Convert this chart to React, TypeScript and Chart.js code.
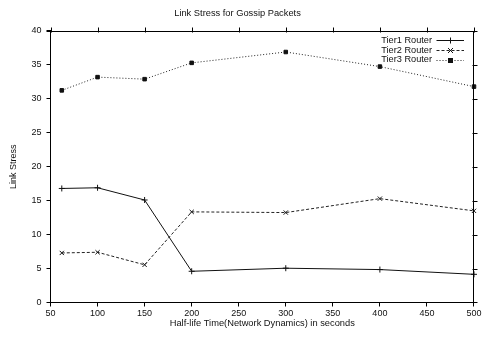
import React, { useEffect, useRef } from 'react';
import { Chart, registerables } from 'chart.js';

Chart.register(...registerables);

const halfLife = [62, 100, 150, 200, 300, 400, 500];
const tier1 = [16.8, 16.9, 15.1, 4.6, 5.05, 4.85, 4.15];
const tier2 = [7.3, 7.4, 5.55, 13.35, 13.25, 15.3, 13.5];
const tier3 = [31.25, 33.2, 32.9, 35.3, 36.9, 34.75, 31.8];
const seriesLabels = ['Tier1 Router', 'Tier2 Router', 'Tier3 Router'];

const FONT = "'Liberation Sans', Arial, Helvetica, sans-serif";
const INK = '#111';

function drawMarker(ctx: CanvasRenderingContext2D, style: string, x: number, y: number) {
  ctx.save();
  ctx.setLineDash([]);
  ctx.lineWidth = 1;
  ctx.strokeStyle = INK;
  ctx.fillStyle = INK;
  ctx.beginPath();
  if (style === 'cross') {
    ctx.moveTo(x - 3, y); ctx.lineTo(x + 3, y);
    ctx.moveTo(x, y - 3); ctx.lineTo(x, y + 3);
    ctx.stroke();
  } else if (style === 'crossRot') {
    ctx.moveTo(x - 2.5, y - 2.5); ctx.lineTo(x + 2.5, y + 2.5);
    ctx.moveTo(x - 2.5, y + 2.5); ctx.lineTo(x + 2.5, y - 2.5);
    ctx.stroke();
  } else {
    ctx.fillRect(x - 2.5, y - 2.5, 5, 5);
  }
  ctx.restore();
}

const framePlugin = {
  id: 'frame',
  afterDraw(chart: any) {
    const { ctx, chartArea: a, scales } = chart;
    const xs = scales.x;
    const ys = scales.y;
    ctx.save();
    ctx.strokeStyle = '#000';
    ctx.lineWidth = 1;
    ctx.setLineDash([]);
    const top = Math.round(a.top) + 0.5;
    const right = Math.round(a.right) - 0.5;
    ctx.beginPath();
    ctx.moveTo(a.left - 4, top);
    ctx.lineTo(right, top);
    ctx.lineTo(right, a.bottom);
    xs.ticks.forEach((t: any) => {
      const px = Math.round(xs.getPixelForValue(t.value)) + 0.5;
      ctx.moveTo(px, top - 4);
      ctx.lineTo(px, top + 1);
    });
    ys.ticks.forEach((t: any) => {
      const py = Math.round(ys.getPixelForValue(t.value)) + 0.5;
      ctx.moveTo(right - 1, py);
      ctx.lineTo(right + 4, py);
    });
    ctx.stroke();

    // legend (gnuplot style: text then sample on the right)
    ctx.font = `9.2px ${FONT}`;
    ctx.fillStyle = INK;
    ctx.textAlign = 'right';
    ctx.textBaseline = 'middle';
    chart.data.datasets.forEach((ds: any, i: number) => {
      const yy = 40.3 + i * 9.7;
      ctx.fillText(ds.label, 432, yy);
      ctx.save();
      ctx.strokeStyle = ds.borderColor;
      ctx.lineWidth = 1;
      ctx.setLineDash(ds.borderDash || []);
      ctx.beginPath();
      ctx.moveTo(436.5, Math.round(yy) + 0.5);
      ctx.lineTo(464, Math.round(yy) + 0.5);
      ctx.stroke();
      ctx.restore();
      drawMarker(ctx, ds.pointStyle, 450.5, Math.round(yy) + 0.5);
    });
    ctx.restore();
  },
};

export default function App() {
  const ref = useRef<HTMLCanvasElement>(null);
  useEffect(() => {
    if (!ref.current) return;
    const mk = (data: number[]) => halfLife.map((x, i) => ({ x, y: data[i] }));
    const chart = new Chart(ref.current, {
      type: 'line',
      data: {
        datasets: [
          {
            label: seriesLabels[0], data: mk(tier1), borderColor: INK, borderWidth: 1,
            pointStyle: 'cross', pointRadius: 3, pointBorderColor: INK, pointBorderWidth: 1,
            pointBackgroundColor: INK, fill: false, tension: 0, clip: 6,
          },
          {
            label: seriesLabels[1], data: mk(tier2), borderColor: '#222', borderWidth: 1, borderDash: [3, 2],
            pointStyle: 'crossRot', pointRadius: 3, pointBorderColor: INK, pointBorderWidth: 1,
            pointBackgroundColor: INK, fill: false, tension: 0, clip: 6,
          },
          {
            label: seriesLabels[2], data: mk(tier3), borderColor: '#222', borderWidth: 1, borderDash: [1, 2],
            pointStyle: 'rect', pointRadius: 2.5, pointBorderColor: INK, pointBorderWidth: 1,
            pointBackgroundColor: INK, fill: false, tension: 0, clip: 6,
          },
        ],
      },
      options: {
        responsive: false,
        animation: false,
        layout: { padding: { left: 0, right: 8, top: 0, bottom: 0 }, autoPadding: false },
        plugins: {
          legend: { display: false },
          tooltip: { enabled: false },
          title: {
            display: true,
            text: 'Link Stress for Gossip Packets',
            color: INK,
            font: { family: FONT, size: 9.3, weight: 'normal' },
            padding: { top: 7.5, bottom: 12.3 },
          },
        },
        scales: {
          x: {
            type: 'linear',
            min: 50,
            max: 500,
            afterFit: (s: any) => { s.height = 34.5; },
            ticks: { stepSize: 50, color: INK, font: { family: FONT, size: 9 }, padding: 1.5, maxRotation: 0 },
            grid: { drawOnChartArea: false, drawTicks: true, tickLength: 4, color: '#000', lineWidth: 1 },
            border: { display: true, color: '#000', width: 1 },
            title: {
              display: true,
              text: 'Half-life Time(Network Dynamics) in seconds',
              color: INK,
              font: { family: FONT, size: 9.3 },
              padding: { top: 0, bottom: 8 },
            },
          },
          y: {
            type: 'linear',
            min: 0,
            max: 40,
            afterFit: (s: any) => { s.width = 50.5; },
            ticks: { stepSize: 5, color: INK, font: { family: FONT, size: 9 }, padding: 5 },
            grid: { drawOnChartArea: false, drawTicks: true, tickLength: 4, color: '#000', lineWidth: 1 },
            border: { display: true, color: '#000', width: 1 },
            title: {
              display: true,
              text: 'Link Stress',
              color: INK,
              font: { family: FONT, size: 9 },
              padding: { top: 8.6, bottom: 0 },
            },
          },
        },
      },
      plugins: [framePlugin],
    } as any);
    return () => chart.destroy();
  }, []);
  return (
    <div style={{ position: 'absolute', left: 0, top: 0, width: 483, height: 337, background: '#fff' }}>
      <canvas ref={ref} width={483} height={337} style={{ display: 'block' }} />
    </div>
  );
}
